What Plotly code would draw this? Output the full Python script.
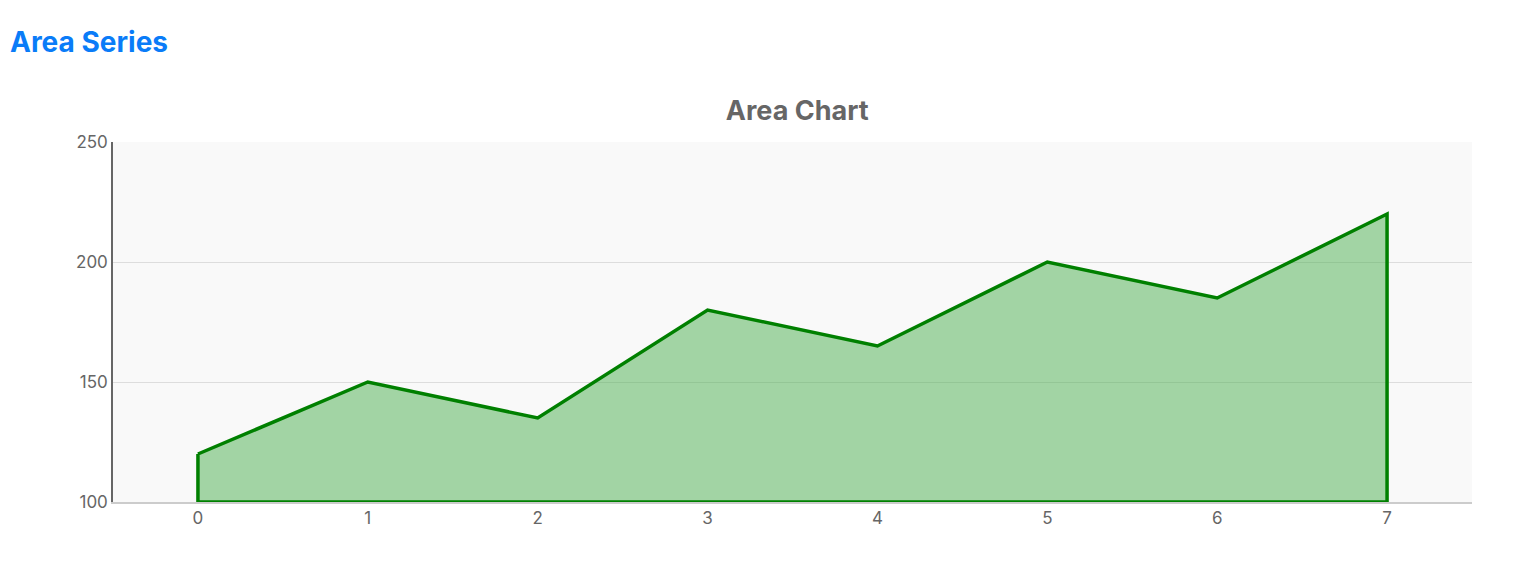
import plotly.graph_objects as go

x_vals = [0, 1, 2, 3, 4, 5, 6, 7]
y_vals = [120, 150, 135, 180, 165, 200, 185, 220]
baseline = 100

px = x_vals + [x_vals[-1], x_vals[0], x_vals[0]]
py = y_vals + [baseline, baseline, y_vals[0]]

fig = go.Figure(go.Scatter(
    x=px, y=py, mode="lines", fill="toself",
    fillcolor="rgba(76,175,80,0.5)",
    line=dict(color="#008000", width=3.5),
    hoverinfo="skip", showlegend=False))

fig.update_layout(
    width=1528, height=578,
    paper_bgcolor="white", plot_bgcolor="#f9f9f9",
    margin=dict(l=105, r=64, t=134, b=84),
    font=dict(family="Inter, Roboto, sans-serif", color="#666", size=17),
    title=dict(text="<b>Area Chart</b>", x=0.5035, xanchor="center", xref="paper",
               y=1 - 103 / 578, yref="container", yanchor="middle",
               font=dict(size=27, color="#666")),
    annotations=[dict(text="<b>Area Series</b>", x=-105 / 1359, xanchor="left",
                      y=1 + (134 - 34) / 360, yanchor="middle",
                      xref="paper", yref="paper",
                      showarrow=False, font=dict(size=28, color="#0a7cf8"))],
)

fig.update_xaxes(range=[-0.5, 7.5], tickvals=x_vals, showgrid=False, zeroline=False,
                 showline=True, linecolor="#ccc", linewidth=1.5, ticks="",
                 tickfont=dict(size=17, color="#666"))
fig.update_yaxes(range=[100, 250], tickvals=[100, 150, 200, 250], showgrid=True, gridcolor="#ddd",
                 gridwidth=1.2, zeroline=False, showline=True, linecolor="#666", linewidth=1.5,
                 ticks="outside", ticklen=0, tickfont=dict(size=17, color="#666"))

fig.write_html("out.html")
